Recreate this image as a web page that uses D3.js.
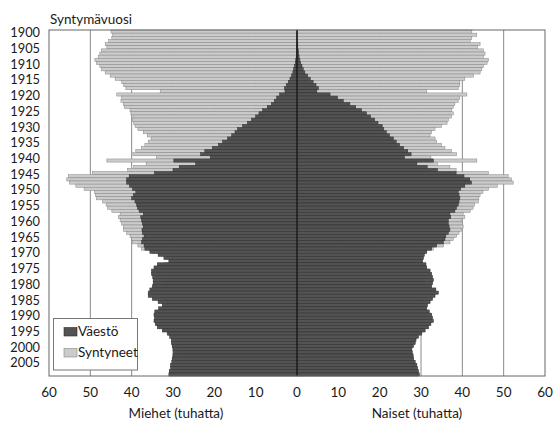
<!DOCTYPE html>
<html>
<head>
<meta charset="utf-8">
<script src="https://cdn.jsdelivr.net/npm/d3@7"></script>
<style>
  html, body { margin: 0; padding: 0; background: #fff; }
  svg { display: block; }
  text { font-family: Lato, "Open Sans", "DejaVu Sans", sans-serif; fill: #1a1a1a; }
</style>
</head>
<body>
<svg id="chart" width="553" height="422"></svg>
<script>
// Birth years 1900..2009
const years = d3.range(1900, 2010);

// Men – population (Väestö), thousands
const menPop = [
  0.05,0.05,0.05,0.05,0.1,0.1,0.1,0.15,0.2,0.3,
  0.4,0.6,0.8,1.0,1.3,1.7,2.1,2.6,3.0,2.9,
  4.2,4.9,5.5,6.2,7.2,8.3,9.2,10.0,11.0,12.0,
  13.2,14.4,15.0,15.8,16.8,18.0,19.0,20.5,22.3,23.3,
  21.0,29.8,24.5,28.5,30.0,34.5,40.6,41.2,41.2,40.5,
  39.8,39.0,39.6,40.0,39.2,38.8,38.6,38.2,37.2,37.8,
  37.6,37.4,37.2,37.5,37.4,37.0,37.4,37.6,37.0,36.8,
  35.6,33.6,32.2,31.0,33.8,34.6,35.2,35.2,34.9,34.8,
  34.8,35.0,35.6,36.0,36.0,35.0,33.6,32.6,33.5,34.4,
  34.6,34.5,34.6,34.3,33.8,32.6,31.4,30.8,30.4,30.4,
  30.2,30.0,29.9,30.0,30.2,30.3,30.6,30.6,30.9,31.0
];
// Men – births (Syntyneet), thousands
const menBirths = [
  45.0,44.6,44.8,45.6,46.4,46.0,47.3,47.7,48.1,48.9,
  48.5,47.7,47.3,46.4,45.2,44.0,42.4,42.0,41.4,33.1,
  43.6,42.4,42.6,42.0,41.8,40.4,40.2,39.7,39.9,39.5,
  39.2,38.5,37.2,36.2,35.3,36.0,36.8,37.6,39.0,39.7,
  34.0,46.0,36.5,39.5,41.0,49.5,55.3,55.7,55.0,53.5,
  51.5,49.0,48.8,48.5,47.0,46.2,45.8,44.8,42.8,43.2,
  42.8,42.4,42.0,42.0,41.2,40.4,40.0,39.8,38.5,37.6,
  35.0,31.5,30.2,29.2,32.0,33.6,34.2,33.6,32.8,32.4,
  32.3,32.5,33.8,34.2,33.3,32.2,31.0,30.6,32.4,32.4,
  33.5,33.4,34.1,33.2,33.4,32.3,31.1,30.4,29.2,29.4,
  29.0,28.7,28.4,29.0,29.5,29.5,30.1,30.0,30.4,30.8
];
// Women – population (Väestö), thousands
const womenPop = [
  0.1,0.1,0.1,0.15,0.2,0.2,0.3,0.4,0.5,0.7,
  0.9,1.2,1.5,1.9,2.6,3.2,3.9,4.6,5.2,4.8,
  8.0,9.8,11.2,12.8,14.2,15.6,16.8,17.8,18.8,19.6,
  20.6,21.0,21.6,22.4,23.3,24.0,24.8,25.8,26.8,27.6,
  26.0,33.0,29.0,31.5,34.0,38.5,40.4,41.8,42.2,40.6,
  39.6,39.0,39.2,39.4,39.2,39.0,38.6,38.2,37.0,37.2,
  36.6,36.6,36.8,37.0,36.6,36.0,35.8,35.4,33.8,32.6,
  31.4,30.8,30.6,30.4,31.2,31.4,32.2,32.6,32.8,33.0,
  32.8,32.6,33.6,34.2,33.4,32.8,32.2,31.6,31.4,32.0,
  32.6,32.8,33.0,32.4,31.8,31.0,30.2,29.4,28.8,28.6,
  28.2,27.8,27.9,28.1,28.2,28.6,29.0,29.2,29.4,29.6
];
// Women – births (Syntyneet), thousands
const womenBirths = [
  42.3,43.5,42.3,41.9,44.3,43.7,45.1,45.5,45.1,46.3,
  46.0,45.1,44.7,44.3,42.7,40.6,39.4,39.4,39.0,31.4,
  41.1,39.4,39.0,38.2,37.8,37.4,37.8,37.4,36.6,36.3,
  35.0,33.4,32.6,32.2,33.4,33.8,35.0,35.8,37.4,38.6,
  32.4,43.5,34.0,37.0,38.5,46.3,51.1,51.9,52.3,48.5,
  46.3,45.0,44.3,44.0,43.9,43.0,42.6,41.9,40.2,40.6,
  39.8,40.0,40.2,39.8,39.2,38.6,37.8,37.0,35.5,33.0,
  31.2,29.8,28.8,27.8,30.4,31.0,32.0,32.0,31.2,31.0,
  30.8,31.0,32.3,32.7,31.8,30.6,29.6,29.2,30.9,30.9,
  32.0,32.0,32.6,31.6,31.8,30.8,29.6,28.9,27.9,28.1,
  27.7,27.5,27.1,27.6,28.2,28.2,28.7,28.7,29.1,29.4
];
const xTicks = [-60,-50,-40,-30,-20,-10,0,10,20,30,40,50,60];
const yTickYears = d3.range(1900, 2010, 5);
const legendLabels = ["Väestö", "Syntyneet"];

const svg = d3.select("#chart");
const L = 49, R = 545, T = 30, B = 376;

const x = d3.scaleLinear().domain([-60, 60]).range([L, R]);
const y = d3.scaleBand().domain(years).range([T, B]).padding(0);

const COL_DARK = "#535353", COL_DARK_S = "#2e2e2e";
const COL_LIGHT = "#cbcbcb", COL_LIGHT_S = "#858585";

// gridlines
svg.append("g").selectAll("line")
  .data(xTicks.filter(d => d !== 0 && Math.abs(d) !== 60))
  .join("line")
  .attr("x1", d => x(d)).attr("x2", d => x(d))
  .attr("y1", T).attr("y2", B)
  .attr("stroke", "#8a8a8a").attr("stroke-width", 1);

const rows = years.map((yr, i) => ({yr, mp: menPop[i], mb: menBirths[i], fp: womenPop[i], fb: womenBirths[i]}));

const bars = svg.append("g");
function drawBars(key, sign, fill, stroke) {
  bars.append("g").selectAll("rect").data(rows).join("rect")
    .attr("x", d => sign < 0 ? x(-d[key]) : x(0))
    .attr("width", d => Math.abs(x(sign * d[key]) - x(0)))
    .attr("y", d => y(d.yr))
    .attr("height", y.bandwidth())
    .attr("fill", fill).attr("stroke", stroke).attr("stroke-width", 0.5);
}
drawBars("mb", -1, COL_LIGHT, COL_LIGHT_S);
drawBars("fb", 1, COL_LIGHT, COL_LIGHT_S);
drawBars("mp", -1, COL_DARK, COL_DARK_S);
drawBars("fp", 1, COL_DARK, COL_DARK_S);

// zero line
svg.append("line").attr("x1", x(0)).attr("x2", x(0)).attr("y1", T).attr("y2", B)
  .attr("stroke", "#111").attr("stroke-width", 1);

// frame
svg.append("rect").attr("x", L).attr("y", T).attr("width", R - L).attr("height", B - T)
  .attr("fill", "none").attr("stroke", "#666").attr("stroke-width", 1);

// y labels
svg.append("g").selectAll("text").data(yTickYears).join("text")
  .attr("x", 40).attr("y", d => y(d) + y.bandwidth() / 2 + 5.6)
  .attr("text-anchor", "end").attr("font-size", 12.8)
  .text(d => d);

// x labels
svg.append("g").selectAll("text").data(xTicks).join("text")
  .attr("x", d => x(d)).attr("y", 396.5)
  .attr("text-anchor", "middle").attr("font-size", 13.5)
  .text(d => Math.abs(d));

svg.append("text").attr("x", 50).attr("y", 24).attr("font-size", 13.5).text("Syntymävuosi");
svg.append("text").attr("x", 176).attr("y", 418).attr("text-anchor", "middle").attr("font-size", 13.5).text("Miehet (tuhatta)");
svg.append("text").attr("x", 417).attr("y", 418).attr("text-anchor", "middle").attr("font-size", 13.5).text("Naiset (tuhatta)");

// legend
const lg = svg.append("g");
lg.append("rect").attr("x", 53.5).attr("y", 318.5).attr("width", 84).attr("height", 51.5)
  .attr("fill", "#fff").attr("stroke", "#777").attr("stroke-width", 1);
const lcol = [[COL_DARK, COL_DARK_S], [COL_LIGHT, COL_LIGHT_S]];
legendLabels.forEach((lab, i) => {
  const yy = 327.5 + i * 21;
  lg.append("rect").attr("x", 64).attr("y", yy).attr("width", 13).attr("height", 8.5)
    .attr("fill", lcol[i][0]).attr("stroke", lcol[i][1]).attr("stroke-width", 0.6);
  lg.append("text").attr("x", 78).attr("y", yy + 8.8).attr("font-size", 13.5).text(lab);
});
</script>
</body>
</html>
